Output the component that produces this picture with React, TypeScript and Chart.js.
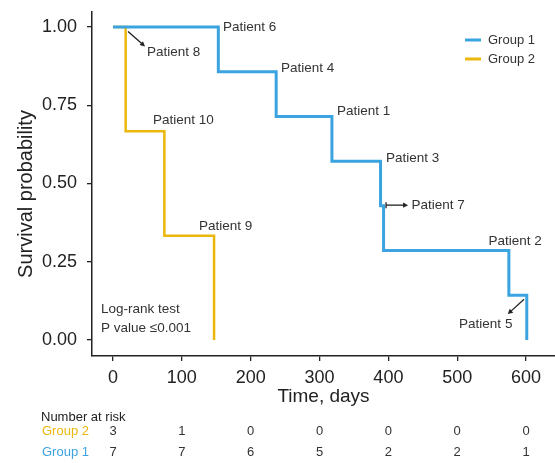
import { useEffect, useRef } from "react";
import { Chart, registerables } from "chart.js";

Chart.register(...registerables);

const FONT = "'Liberation Sans', Arial, Helvetica, sans-serif";

// Kaplan-Meier step data
const group1Times = [0, 153, 237, 318, 388.6, 393, 575, 601];
const group1Surv = [1, 0.857, 0.714, 0.571, 0.429, 0.286, 0.143, 0];
const group2Times = [0, 18.4, 74.6, 146.8];
const group2Surv = [1, 0.667, 0.333, 0];

const seriesLabels = ["Group 1", "Group 2"];
const seriesColors = ["#3aa3e0", "#ebb70c"];

const xTicks = [0, 100, 200, 300, 400, 500, 600];
const yTicks = [0, 0.25, 0.5, 0.75, 1];

// Number at risk table
const riskTimes = [0, 100, 200, 300, 400, 500, 600];
const riskGroup2 = [3, 1, 0, 0, 0, 0, 0];
const riskGroup1 = [7, 7, 6, 5, 2, 2, 1];

// Annotation texts (data coordinates: days, survival)
const noteTexts = [
  "Patient 6", "Patient 8", "Patient 10", "Patient 4", "Patient 1", "Patient 3",
  "Patient 7", "Patient 9", "Patient 2", "Patient 5", "Log-rank test", "P value \u22640.001",
];
const noteX = [159.8, 49.4, 58.1, 244, 325.4, 396.6, 433.4, 125, 545.3, 502.7, -17.4, -17.4];
const noteY = [1.0, 0.919, 0.702, 0.867, 0.731, 0.58, 0.431, 0.364, 0.317, 0.05, 0.098, 0.039];

// Arrows (from -> to, head at "to")
const arrowX0 = [21.8, 396.6, 597.1];
const arrowY0 = [0.986, 0.431, 0.13];
const arrowX1 = [46.5, 428.6, 573.4];
const arrowY1 = [0.938, 0.431, 0.083];

function drawArrow(ctx: CanvasRenderingContext2D, x0: number, y0: number, x1: number, y1: number) {
  const ang = Math.atan2(y1 - y0, x1 - x0);
  const hl = 5;
  const hw = 2.6;
  ctx.beginPath();
  ctx.moveTo(x0, y0);
  ctx.lineTo(x1 - Math.cos(ang) * hl * 0.8, y1 - Math.sin(ang) * hl * 0.8);
  ctx.stroke();
  ctx.beginPath();
  ctx.moveTo(x1, y1);
  ctx.lineTo(x1 - Math.cos(ang) * hl - Math.sin(ang) * hw, y1 - Math.sin(ang) * hl + Math.cos(ang) * hw);
  ctx.lineTo(x1 - Math.cos(ang) * hl + Math.sin(ang) * hw, y1 - Math.sin(ang) * hl - Math.cos(ang) * hw);
  ctx.closePath();
  ctx.fill();
}

const overlayPlugin = {
  id: "overlay",
  afterDraw(chart: any) {
    const { ctx, chartArea } = chart;
    const xs = chart.scales.x;
    const ys = chart.scales.y;
    ctx.save();

    // annotations
    ctx.font = `13.5px ${FONT}`;
    ctx.fillStyle = "#333";
    ctx.textAlign = "left";
    ctx.textBaseline = "middle";
    noteTexts.forEach((t, i) => {
      ctx.fillText(t, xs.getPixelForValue(noteX[i]), ys.getPixelForValue(noteY[i]));
    });

    // arrows
    ctx.strokeStyle = "#222";
    ctx.fillStyle = "#222";
    ctx.lineWidth = 1.3;
    arrowX0.forEach((_, i) => {
      drawArrow(
        ctx,
        xs.getPixelForValue(arrowX0[i]),
        ys.getPixelForValue(arrowY0[i]),
        xs.getPixelForValue(arrowX1[i]),
        ys.getPixelForValue(arrowY1[i])
      );
    });
    // small censor tick at start of Patient 7 arrow
    {
      const px = xs.getPixelForValue(arrowX0[1]);
      const py = ys.getPixelForValue(arrowY0[1]);
      ctx.beginPath();
      ctx.moveTo(px, py - 3);
      ctx.lineTo(px, py + 3);
      ctx.stroke();
    }

    // legend
    ctx.font = `13px ${FONT}`;
    chart.data.datasets.forEach((ds: any, i: number) => {
      const ly = chartArea.top + 28 + i * 19;
      const lx = chartArea.right - 90;
      ctx.strokeStyle = ds.borderColor;
      ctx.lineWidth = 3;
      ctx.beginPath();
      ctx.moveTo(lx, ly);
      ctx.lineTo(lx + 16, ly);
      ctx.stroke();
      ctx.fillStyle = "#333";
      ctx.textBaseline = "middle";
      ctx.fillText(ds.label, lx + 23, ly);
    });

    // y-axis title
    ctx.save();
    ctx.translate(32, (chartArea.top + chartArea.bottom) / 2 + 10);
    ctx.rotate(-Math.PI / 2);
    ctx.font = `20px ${FONT}`;
    ctx.fillStyle = "#222";
    ctx.textAlign = "center";
    ctx.textBaseline = "alphabetic";
    ctx.fillText("Survival probability", 0, 0);
    ctx.restore();

    // number at risk table
    const base = chartArea.bottom;
    ctx.font = `13px ${FONT}`;
    ctx.textBaseline = "middle";
    ctx.textAlign = "left";
    ctx.fillStyle = "#222";
    ctx.fillText("Number at risk", 41, base + 61);
    ctx.fillStyle = seriesColors[1];
    ctx.fillText(seriesLabels[1], 42, base + 75);
    ctx.fillStyle = seriesColors[0];
    ctx.fillText(seriesLabels[0], 42, base + 96);
    ctx.fillStyle = "#333";
    ctx.textAlign = "center";
    riskTimes.forEach((t, i) => {
      const px = xs.getPixelForValue(t);
      ctx.fillText(String(riskGroup2[i]), px, base + 75);
      ctx.fillText(String(riskGroup1[i]), px, base + 96);
    });

    ctx.restore();
  },
};

export default function App() {
  const ref = useRef<HTMLCanvasElement | null>(null);

  useEffect(() => {
    if (!ref.current) return;
    const chart = new Chart(ref.current, {
      type: "line",
      data: {
        datasets: [
          {
            label: seriesLabels[0],
            data: group1Times.map((t, i) => ({ x: t, y: group1Surv[i] })),
            borderColor: seriesColors[0],
            backgroundColor: seriesColors[0],
            borderWidth: 3,
            stepped: "before",
            pointRadius: 0,
            fill: false,
          },
          {
            label: seriesLabels[1],
            data: group2Times.map((t, i) => ({ x: t, y: group2Surv[i] })),
            borderColor: seriesColors[1],
            backgroundColor: seriesColors[1],
            borderWidth: 2.5,
            stepped: "before",
            pointRadius: 0,
            fill: false,
          },
        ],
      },
      options: {
        animation: false,
        responsive: false,
        layout: { padding: { top: 12, right: 0, bottom: 0, left: 0 } },
        plugins: {
          legend: { display: false },
          tooltip: { enabled: false },
        },
        scales: {
          x: {
            type: "linear",
            min: -30.5,
            max: 642,
            afterBuildTicks: (s: any) => {
              s.ticks = xTicks.map((v) => ({ value: v }));
            },
            afterFit: (s: any) => {
              s.height = 107;
              s.paddingLeft = 0;
              s.paddingRight = 0;
            },
            grid: {
              display: true,
              drawOnChartArea: false,
              drawTicks: true,
              tickLength: 5,
              color: "#222",
              lineWidth: 1.3,
            },
            border: { display: true, color: "#222", width: 1.5 },
            ticks: {
              font: { size: 18, family: FONT },
              color: "#222",
              padding: 6,
              maxRotation: 0,
              callback: (v: any) => String(v),
            },
            title: {
              display: true,
              text: "Time, days",
              font: { size: 19, family: FONT },
              color: "#222",
              padding: { top: 0, bottom: 55 },
            },
          },
          y: {
            type: "linear",
            min: -0.051,
            max: 1.048,
            afterBuildTicks: (s: any) => {
              s.ticks = yTicks.map((v) => ({ value: v }));
            },
            afterFit: (s: any) => {
              s.width = 92;
              s.paddingTop = 0;
              s.paddingBottom = 0;
            },
            grid: {
              display: true,
              drawOnChartArea: false,
              drawTicks: true,
              tickLength: 5,
              color: "#222",
              lineWidth: 1.3,
            },
            border: { display: true, color: "#222", width: 1.5 },
            ticks: {
              font: { size: 18, family: FONT },
              color: "#222",
              padding: 10,
              callback: (v: any) => Number(v).toFixed(2),
            },
          },
        },
      },
      plugins: [overlayPlugin],
    });
    return () => chart.destroy();
  }, []);

  return (
    <div style={{ position: "fixed", left: 0, top: 0, width: 555, height: 463, background: "#fff" }}>
      <canvas ref={ref} width={555} height={463} />
    </div>
  );
}
